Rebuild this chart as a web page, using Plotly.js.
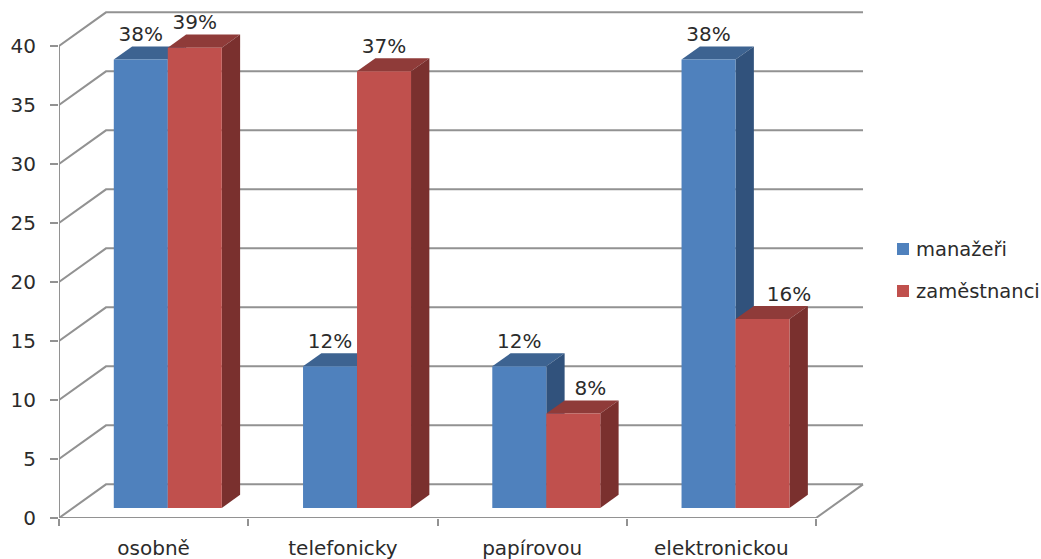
<!DOCTYPE html>
<html>
<head>
<meta charset="utf-8">
<script src="https://cdn.plot.ly/plotly-3.0.1.min.js"></script>
<style>html,body{margin:0;padding:0;background:#fff}#chart{width:1041px;height:559px}</style>
</head>
<body>
<div id="chart"></div>
<script>
// Survey results: communication channels by respondent group
var categories = ['osobně', 'telefonicky', 'papírovou', 'elektronickou'];
var manazeri = [38, 12, 12, 38];
var zamestnanci = [39, 37, 8, 16];
var yTicks = [0, 5, 10, 15, 20, 25, 30, 35, 40];
var seriesNames = ['manažeři', 'zaměstnanci'];
// Sideways shift of the labels that were moved clear of the neighbouring bar
var manazeriLabelShift = [0, 0, 0, 0];
var zamestnanciLabelShift = [0, 0, 0.09, 0.14];

// Oblique projection: how far one full unit of depth moves a point on the axes
var DEPTH_X = 0.2484, DEPTH_Y = 2.85;
var BAR_WIDTH = 0.2853, BAR_START = 0.215;
var BAR_NEAR = 0.30, BAR_FAR = 0.69;
var LABEL_RISE = 2.0;
var GRID = '#929292', TEXT = '#2b2b2b', FONT = '"DejaVu Sans", sans-serif';

function px(x, d) { return x + d * DEPTH_X; }
function py(v, d) { return v + d * DEPTH_Y; }

var traces = [];

function line(xs, ys) {
  traces.push({x: xs, y: ys, mode: 'lines', line: {color: GRID, width: 2},
    showlegend: false, hoverinfo: 'skip', cliponaxis: false});
}

// Wall grid: each level runs from the front axis back, then across the rear wall
yTicks.forEach(function (v) {
  line([px(0, 0), px(0, 1), px(categories.length, 1)], [py(v, 0), py(v, 1), py(v, 1)]);
});
// Front axis and floor edge
line([0, 0], [0, yTicks[yTicks.length - 1]]);
line([0, categories.length, px(categories.length, 1)], [0, 0, py(0, 1)]);

function face(xs, ys, color) {
  traces.push({x: xs, y: ys, mode: 'lines', fill: 'toself', fillcolor: color,
    line: {width: 0, color: color}, showlegend: false, hoverinfo: 'skip', cliponaxis: false});
}

function box(x0, v, colors) {
  var x1 = x0 + BAR_WIDTH;
  // top
  face([px(x0, BAR_NEAR), px(x1, BAR_NEAR), px(x1, BAR_FAR), px(x0, BAR_FAR), px(x0, BAR_NEAR)],
       [py(v, BAR_NEAR), py(v, BAR_NEAR), py(v, BAR_FAR), py(v, BAR_FAR), py(v, BAR_NEAR)], colors[1]);
  // right side
  face([px(x1, BAR_NEAR), px(x1, BAR_FAR), px(x1, BAR_FAR), px(x1, BAR_NEAR), px(x1, BAR_NEAR)],
       [py(0, BAR_NEAR), py(0, BAR_FAR), py(v, BAR_FAR), py(v, BAR_NEAR), py(0, BAR_NEAR)], colors[2]);
  // front
  face([px(x0, BAR_NEAR), px(x1, BAR_NEAR), px(x1, BAR_NEAR), px(x0, BAR_NEAR), px(x0, BAR_NEAR)],
       [py(0, BAR_NEAR), py(0, BAR_NEAR), py(v, BAR_NEAR), py(v, BAR_NEAR), py(0, BAR_NEAR)], colors[0]);
}

var BLUE = ['#4F81BD', '#3D6391', '#31527C'];
var RED = ['#C0504D', '#8F3B39', '#7A302E'];

categories.forEach(function (c, i) {
  box(i + BAR_START, manazeri[i], BLUE);
  box(i + BAR_START + BAR_WIDTH, zamestnanci[i], RED);
});

function labels(values, slot, shifts) {
  traces.push({
    x: values.map(function (v, i) { return px(i + BAR_START + BAR_WIDTH * (slot + 0.5) + shifts[i], BAR_NEAR); }),
    y: values.map(function (v) { return py(v, BAR_NEAR) + LABEL_RISE; }),
    text: values.map(function (v) { return v + '%'; }),
    mode: 'text', textposition: 'middle center',
    textfont: {family: FONT, size: 20, color: TEXT},
    showlegend: false, hoverinfo: 'skip', cliponaxis: false
  });
}
labels(manazeri, 0, manazeriLabelShift);
labels(zamestnanci, 1, zamestnanciLabelShift);

// Legend block to the right of the plot, placed in paper fractions
var PLOT_W = 812, PLOT_H = 508, LEFT = 59, TOP = 10;
function paperX(p) { return (p - LEFT) / PLOT_W; }
function paperY(p) { return 1 - (p - TOP) / PLOT_H; }
var legendRows = [249, 291], legendColors = [BLUE[0], RED[0]];
var shapes = legendRows.map(function (yc, i) {
  return {type: 'rect', xref: 'paper', yref: 'paper', x0: paperX(897), x1: paperX(909),
    y0: paperY(yc + 6), y1: paperY(yc - 6), fillcolor: legendColors[i], line: {width: 0}};
});
var annotations = legendRows.map(function (yc, i) {
  return {xref: 'paper', yref: 'paper', x: paperX(915), y: paperY(yc), xanchor: 'left', yanchor: 'middle',
    text: seriesNames[i], showarrow: false, xshift: 0, borderpad: 0,
    font: {family: FONT, size: 19.5, color: TEXT}};
});

var layout = {
  width: 1041, height: 559,
  margin: {l: LEFT, r: 1041 - LEFT - PLOT_W, t: TOP, b: 559 - TOP - PLOT_H},
  paper_bgcolor: '#fff', plot_bgcolor: '#fff',
  showlegend: false,
  shapes: shapes,
  annotations: annotations,
  font: {family: FONT, size: 20, color: TEXT},
  xaxis: {
    range: [0, PLOT_W / 189.25], showgrid: false, zeroline: false, showline: false,
    tickmode: 'array', tickvals: categories.map(function (c, i) { return i + 0.5; }), ticktext: categories,
    ticks: '', ticklabelstandoff: 16,
    minor: {tickmode: 'array', tickvals: [0, 1, 2, 3, 4], ticks: 'outside', ticklen: 7, tickwidth: 2, tickcolor: GRID, showgrid: false}
  },
  yaxis: {
    range: [0, PLOT_H / 11.8], showgrid: false, zeroline: false, showline: false,
    tickmode: 'array', tickvals: yTicks, ticks: 'outside', ticklen: 8, tickwidth: 2, tickcolor: GRID,
    ticklabelstandoff: 10
  }
};

Plotly.newPlot('chart', traces, layout, {displayModeBar: false, staticPlot: true});
</script>
</body>
</html>
